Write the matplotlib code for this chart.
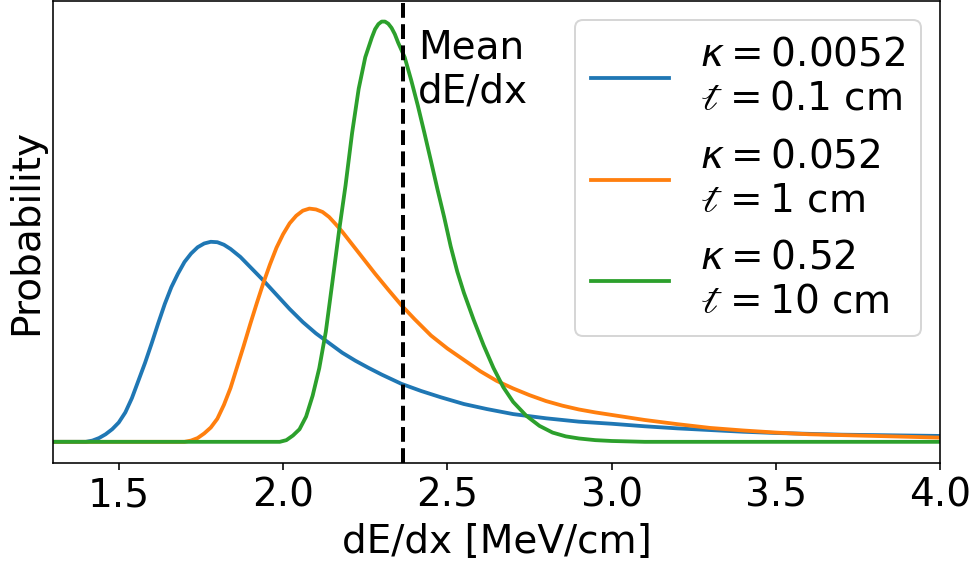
import numpy as np
import matplotlib
matplotlib.use("Agg")
import matplotlib.pyplot as plt

# ---------------------------------------------------------------------------
# Data: values (arbitrary units, green peak = 1)
# ---------------------------------------------------------------------------

BLUE_X = [1.30, 1.40, 1.42, 1.44, 1.46, 1.48, 1.50, 1.52, 1.54, 1.56, 1.58,
          1.60, 1.62, 1.64, 1.66, 1.68, 1.70, 1.72, 1.74, 1.76, 1.78, 1.80,
          1.82, 1.84, 1.87, 1.90, 1.94, 1.98, 2.02, 2.06, 2.10, 2.14, 2.18,
          2.22, 2.26, 2.30, 2.36, 2.42, 2.48, 2.55, 2.62, 2.70, 2.80, 2.90,
          3.00, 3.10, 3.20, 3.30, 3.40, 3.50, 3.60, 3.70, 3.80, 3.90, 4.00]
BLUE_Y = [0.000, 0.000, 0.003, 0.009, 0.018, 0.030, 0.046, 0.070, 0.104,
          0.146, 0.188, 0.234, 0.282, 0.328, 0.368, 0.400, 0.428, 0.448,
          0.463, 0.472, 0.476, 0.475, 0.469, 0.459, 0.440, 0.416, 0.384,
          0.350, 0.316, 0.285, 0.258, 0.235, 0.212, 0.193, 0.176, 0.160,
          0.138, 0.121, 0.106, 0.090, 0.078, 0.066, 0.056, 0.048, 0.043,
          0.037, 0.032, 0.028, 0.024, 0.021, 0.019, 0.017, 0.016, 0.015,
          0.014]

ORANGE_X = [1.30, 1.70, 1.72, 1.74, 1.76, 1.78, 1.80, 1.82, 1.84, 1.86, 1.88,
            1.90, 1.92, 1.94, 1.96, 1.98, 2.00, 2.02, 2.04, 2.06, 2.08, 2.10,
            2.12, 2.14, 2.16, 2.18, 2.20, 2.24, 2.28, 2.32, 2.36, 2.40, 2.45,
            2.50, 2.55, 2.60, 2.65, 2.70, 2.75, 2.80, 2.85, 2.90, 2.95, 3.00,
            3.10, 3.20, 3.30, 3.40, 3.50, 3.60, 3.70, 3.80, 3.90, 4.00]
ORANGE_Y = [0.000, 0.000, 0.003, 0.009, 0.020, 0.034, 0.055, 0.088, 0.128,
            0.178, 0.228, 0.280, 0.330, 0.378, 0.422, 0.462, 0.494, 0.520,
            0.538, 0.550, 0.555, 0.553, 0.547, 0.535, 0.518, 0.500, 0.480,
            0.440, 0.400, 0.362, 0.325, 0.292, 0.253, 0.222, 0.195, 0.168,
            0.145, 0.127, 0.111, 0.097, 0.086, 0.077, 0.070, 0.064, 0.052,
            0.042, 0.033, 0.027, 0.022, 0.018, 0.016, 0.014, 0.012, 0.010]

GREEN_X = [1.30, 1.99, 2.01, 2.03, 2.05, 2.07, 2.09, 2.11, 2.13, 2.15, 2.17,
           2.19, 2.21, 2.23, 2.25, 2.27, 2.28, 2.29, 2.30, 2.31, 2.32, 2.33,
           2.34, 2.35, 2.37, 2.39, 2.41, 2.43, 2.45, 2.47, 2.49, 2.51, 2.53,
           2.55, 2.58, 2.61, 2.64, 2.67, 2.70, 2.74, 2.78, 2.82, 2.86, 2.90,
           2.95, 3.00, 3.05, 3.10, 4.00]
GREEN_Y = [0.000, 0.000, 0.004, 0.015, 0.030, 0.060, 0.110, 0.175, 0.262,
           0.380, 0.500, 0.610, 0.735, 0.840, 0.915, 0.962, 0.982, 0.994,
           1.000, 1.000, 0.995, 0.985, 0.970, 0.950, 0.915, 0.860, 0.800,
           0.735, 0.668, 0.600, 0.535, 0.465, 0.405, 0.355, 0.290, 0.230,
           0.176, 0.130, 0.095, 0.062, 0.038, 0.022, 0.013, 0.008, 0.004,
           0.002, 0.001, 0.000, 0.000]

LABELS = [
    "$\\kappa = 0.0052$\n$\\mathscr{t} = 0.1$ cm",
    "$\\kappa = 0.052$\n$\\mathscr{t} = 1$ cm",
    "$\\kappa = 0.52$\n$\\mathscr{t} = 10$ cm",
]
MEAN_DEDX = 2.365

# ---------------------------------------------------------------------------
# Plot
# ---------------------------------------------------------------------------

plt.rcParams["font.size"] = 19.5

fig = plt.figure(figsize=(973 / 144, 570 / 144), dpi=144)
ax = fig.add_axes([0.0545, 0.188, 0.912, 0.811])

LW = 1.9
ax.plot(BLUE_X, BLUE_Y, lw=LW, label=LABELS[0])
ax.plot(ORANGE_X, ORANGE_Y, lw=LW, label=LABELS[1])
ax.plot(GREEN_X, GREEN_Y, lw=LW, label=LABELS[2])

ax.axvline(MEAN_DEDX, color="black", linestyle="--", lw=2)
ax.text(MEAN_DEDX + 0.045, 0.94, "Mean\ndE/dx", ha="left", va="top",
        transform=ax.get_xaxis_transform())

ax.set_xlim(1.3, 4.0)
ax.set_yticks([])
ax.set_xlabel("dE/dx [MeV/cm]")
ax.set_ylabel("Probability")
ax.legend(loc="upper right")

fig.savefig("out.png", dpi=144)
